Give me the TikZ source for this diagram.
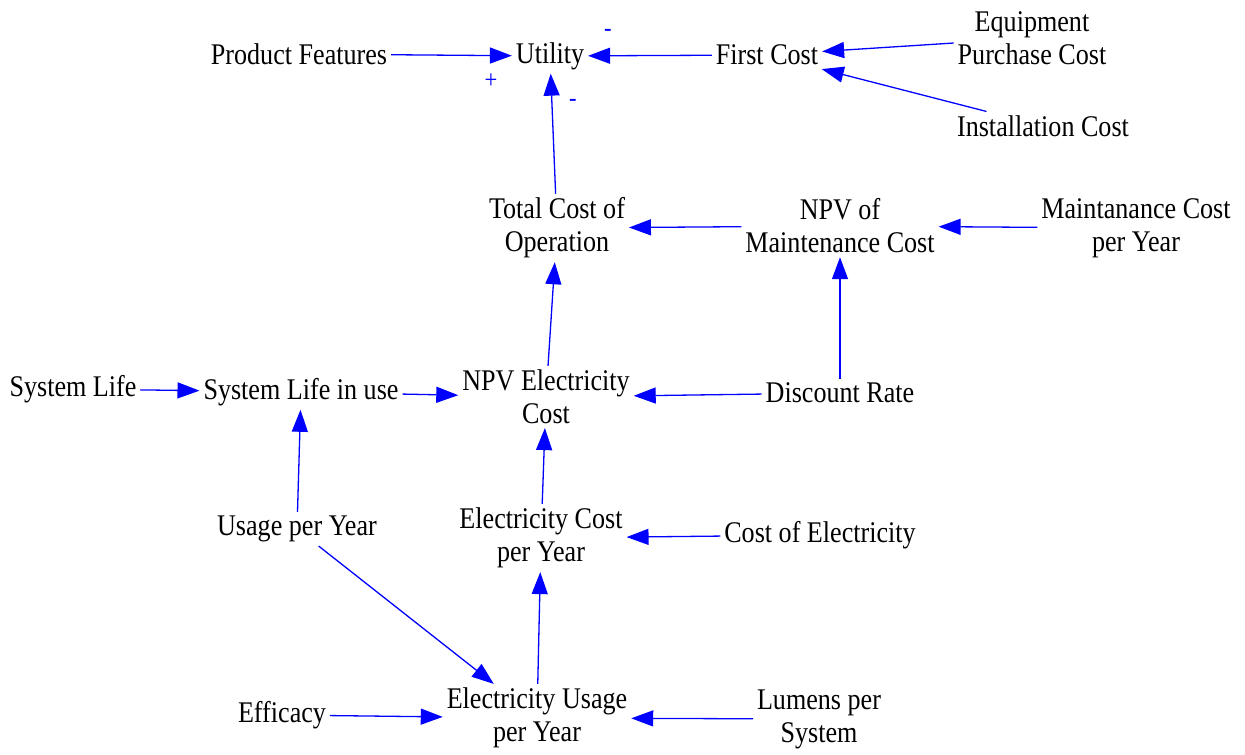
\documentclass[tikz,border=0pt]{standalone}
\usepackage{fontspec}
\setmainfont{Liberation Serif}[FakeStretch=0.87]
\usetikzlibrary{arrows.meta}

\begin{document}
\begin{tikzpicture}[x=1pt,y=-1pt,
				every node/.style={var},
				var/.style={align=center,inner sep=4pt,outer sep=0pt,font=\fontsize{30}{33}\selectfont},
				sign/.style={text=blue,inner sep=0pt,font=\fontsize{26}{26}\selectfont},
				link/.style={draw=blue,line width=1.3pt,-{Triangle[length=22pt,width=16pt]}}]
				\useasboundingbox (0,0) rectangle (1245,755);
				\node (FEAT)  at (299,54)   {Product Features};
				\node (UTIL)  at (550,56)   {Utility};
				\node (FIRST) at (767,55)   {First Cost};
				\node (EQUIP) at (1032,38)  {Equipment\\Purchase Cost};
				\node (INST)  at (1043,126) {Installation Cost};
				\node (TCO)   at (557,228)  {Total Cost of\\Operation};
				\node (NPVM)  at (840,226)  {NPV of\\Maintenance Cost};
				\node (MAINT) at (1136,228) {Maintanance Cost\\per Year};
				\node (LIFE)  at (73,389)   {System Life};
				\node (INUSE) at (301,392)  {System Life in use};
				\node (NPVE)  at (546,397)  {NPV Electricity\\Cost};
				\node (RATE)  at (840,393)  {Discount Rate};
				\node (USAGE) at (297,529)  {Usage per Year};
				\node (ECOST) at (541,538)  {Electricity Cost\\per Year};
				\node (PRICE) at (820,535)  {Cost of Electricity};
				\node (EFF)   at (282,715)  {Efficacy};
				\node (EUSE)  at (537,718)  {Electricity Usage\\per Year};
				\node (LUM)   at (819,719)  {Lumens per\\System};
				\node[sign] (S1) at (608,33)  {-};
				\node[sign] (S2) at (491,81)  {+};
				\node[sign] (S3) at (573,103) {-};

				\draw[link] (FEAT) -- (UTIL);
				\draw[link] (FIRST) -- (UTIL);
				\draw[link] (EQUIP) -- (FIRST);
				\draw[link] (INST) -- (FIRST);
				\draw[link] (TCO) -- (UTIL);
				\draw[link] (NPVM) -- (TCO);
				\draw[link] (MAINT) -- (NPVM);
				\draw[link] (NPVE) -- (TCO);
				\draw[link] (RATE) -- (NPVM);
				\draw[link] (RATE) -- (NPVE);
				\draw[link] (LIFE) -- (INUSE);
				\draw[link] (INUSE) -- (NPVE);
				\draw[link] (USAGE) -- (INUSE);
				\draw[link] (USAGE) -- (EUSE);
				\draw[link] (ECOST) -- (NPVE);
				\draw[link] (PRICE) -- (ECOST);
				\draw[link] (EUSE) -- (ECOST);
				\draw[link] (EFF) -- (EUSE);
				\draw[link] (LUM) -- (EUSE);
			\end{tikzpicture}
\end{document}
